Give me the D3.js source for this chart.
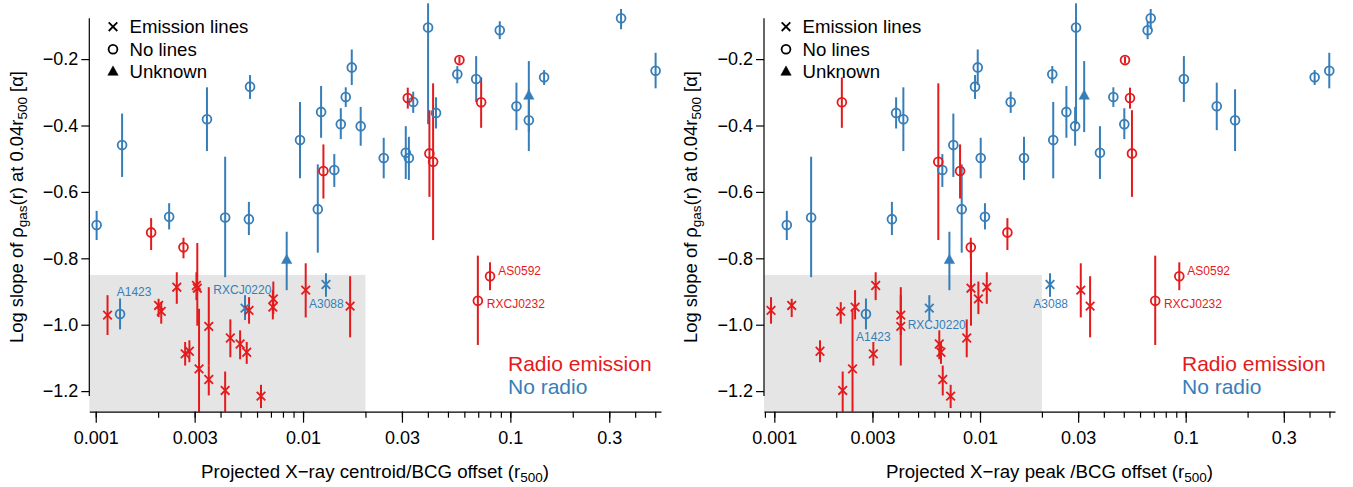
<!DOCTYPE html>
<html>
<head>
<meta charset="utf-8">
<script src="https://cdn.jsdelivr.net/npm/d3@7"></script>
<style>
    body { margin: 0; background: #fff; }
    text { font-family: "Liberation Sans", Arial, sans-serif; }
</style>
</head>
<body>
<div id="chart"></div>
<script>
// one entry per cluster, same order in every array
const names = [
    '', '', '', '', '', '', '', '', '', '', '', '', '', '', '', '', '', '', '', '', '', '', '', '', '', '', '', '', '',
    'A1423', '', '', 'A3088', 'RXCJ0220',
    '', '', '', '', '', '', '', '', 'AS0592', 'RXCJ0232',
    '', '', '', '', '', '', '', '', '', '', '', '', '', '', '', '', '', '', '', '', ''
];

// log slope of the gas density at 0.04 r500, with lower / upper bounds
const slope = [
    -0.700, -0.459, -0.675, -0.381, -0.677, -0.283, -0.682, -0.444, -0.652, -0.359,
    -0.534, -0.396, -0.314, -0.225, -0.402, -0.498, -0.482, -0.498, -0.329, -0.105,
    -0.362, -0.246, -0.260, -0.113, -0.342, -0.384, -0.255, -0.077, -0.235,
    -0.968, -0.805, -0.310, -0.879, -0.950,
    -0.722, -0.767, -0.537, -0.317, -0.484, -0.509, -0.203, -0.330, -0.854, -0.928,
    -0.971, -0.942, -0.960, -0.887, -1.088, -1.080, -0.882, -0.890, -1.133, -1.005,
    -1.165, -1.198, -1.040, -1.058, -1.083, -0.957, -0.922, -0.947, -1.215, -0.896, -0.944
];
const slopeHi = [
    -0.657, -0.364, -0.634, -0.285, -0.494, -0.248, -0.630, -0.329, -0.517, -0.281,
    -0.486, -0.348, -0.285, -0.171, -0.344, -0.437, -0.402, -0.434, -0.298, -0.032,
    -0.315, -0.221, -0.191, -0.086, -0.271, -0.291, -0.233, -0.049, -0.181,
    -0.921, -0.720, -0.206, -0.845, -0.911,
    -0.679, -0.738, -0.457, -0.286, -0.354, -0.273, -0.193, -0.255, -0.812, -0.792,
    -0.911, -0.922, -0.932, -0.842, -1.052, -1.047, -0.842, -0.754, -0.952, -0.887,
    -1.123, -1.141, -0.984, -1.017, -1.052, -0.917, -0.870, -0.896, -1.181, -0.815, -0.854
];
const slopeLo = [
    -0.745, -0.555, -0.713, -0.477, -0.857, -0.320, -0.730, -0.559, -0.783, -0.437,
    -0.585, -0.441, -0.344, -0.278, -0.461, -0.559, -0.561, -0.564, -0.362, -0.396,
    -0.409, -0.273, -0.329, -0.140, -0.414, -0.477, -0.278, -0.110, -0.288,
    -1.014, -0.896, -0.420, -0.916, -0.986,
    -0.775, -0.800, -0.620, -0.349, -0.615, -0.745, -0.213, -0.407, -0.896, -1.061,
    -1.031, -0.977, -0.997, -0.937, -1.123, -1.113, -0.926, -1.003, -1.300, -1.123,
    -1.213, -1.300, -1.098, -1.104, -1.118, -0.997, -0.968, -0.984, -1.251, -0.978, -1.038
];

// projected X-ray centroid / BCG offset and X-ray peak / BCG offset (r500)
const offCentroid = [
    0.00101, 0.00134, 0.00226, 0.00344, 0.00421, 0.00555, 0.00548, 0.00967, 0.01178, 0.01222,
    0.01415, 0.01521, 0.01607, 0.01718, 0.01897, 0.0245, 0.0313, 0.0324, 0.0340, 0.0401,
    0.0438, 0.0555, 0.0684, 0.0889, 0.107, 0.1228, 0.1455, 0.342, 0.502,
    0.00131, 0.00834, 0.1228, 0.0129, 0.00525,
    0.00185, 0.00265, 0.01254, 0.0320, 0.0407, 0.0424, 0.0568, 0.0723, 0.0798, 0.0697,
    0.00114, 0.00201, 0.00207, 0.00246, 0.00270, 0.00283, 0.00306, 0.00309, 0.00315, 0.00351,
    0.00351, 0.00421, 0.00446, 0.00497, 0.00535, 0.00549, 0.00719, 0.00715, 0.00627, 0.0103, 0.01687
];
const offPeak = [
    0.00115, 0.00742, 0.01057, 0.00424, 0.00151, 0.00946, 0.00373, 0.0227, 0.00815, 0.0263,
    0.00656, 0.0503, 0.0445, 0.00975, 0.0290, 0.01008, 0.0383, 0.01637, 0.0141, 0.0293,
    0.00391, 0.02246, 0.0980, 0.0653, 0.1416, 0.1738, 0.4236, 0.0676, 0.499,
    0.00279, 0.00710, 0.0321, 0.0219, 0.00567,
    0.01359, 0.00902, 0.00800, 0.0536, 0.0548, 0.00627, 0.0507, 0.00213, 0.0931, 0.0711,
    0.00412, 0.001215, 0.002104, 0.01079, 0.00303, 0.001668, 0.00311, 0.00904, 0.00240, 0.00412,
    0.00659, 0.00215, 0.00862, 0.00634, 0.00646, 0.000964, 0.00982, 0.00247, 0.00720, 0.0309, 0.0343
];

// N = no lines, E = emission lines, U = unknown
const lines = [
    'N', 'N', 'N', 'N', 'N', 'N', 'N', 'N', 'N', 'N', 'N', 'N', 'N', 'N', 'N',
    'N', 'N', 'N', 'N', 'N', 'N', 'N', 'N', 'N', 'N', 'N', 'N', 'N', 'N',
    'N', 'U', 'U', 'E', 'E',
    'N', 'N', 'N', 'N', 'N', 'N', 'N', 'N', 'N', 'N',
    'E', 'E', 'E', 'E', 'E', 'E', 'E', 'E', 'E', 'E', 'E',
    'E', 'E', 'E', 'E', 'E', 'E', 'E', 'E', 'E', 'E'
];
const radio = [
    0, 0, 0, 0, 0, 0, 0, 0, 0, 0, 0, 0, 0, 0, 0, 0, 0, 0, 0, 0, 0, 0, 0, 0, 0, 0, 0, 0, 0,
    0, 0, 0, 0, 0,
    1, 1, 1, 1, 1, 1, 1, 1, 1, 1,
    1, 1, 1, 1, 1, 1, 1, 1, 1, 1, 1, 1, 1, 1, 1, 1, 1, 1, 1, 1, 1
];

const xMajor = [0.001, 0.003, 0.01, 0.03, 0.1, 0.3];
const yTicks = [-0.2, -0.4, -0.6, -0.8, -1.0, -1.2];
const legendLines = [['E', 'Emission lines'], ['N', 'No lines'], ['U', 'Unknown']];
const legendRadio = [[1, 'Radio emission'], [0, 'No radio']];
const shadeOffset = 0.02;
const shadeSlope = -0.85;

const red = '#e41a1c';
const blue = '#377eb8';
const width = 1353;
const height = 487;
const plotBottom = 411.7;

const y = d3.scaleLinear().domain([-1.262, -0.022]).range([plotBottom, 0]);

const panels = [
    {
        x0: 89.3, x1: 661, domain: [0.000931, 0.533], values: offCentroid,
        title: 'Projected X\u2212ray centroid/BCG offset (r', titleX: 375,
        yTitleX: 23, legendX: 113, radioX: 508,
        labels: {
            A1423: [-3.3, -18], RXCJ0220: [-31.7, -14.4], A3088: [-17, 23.8],
            AS0592: [8.3, -1.7], RXCJ0232: [9, 7.6]
        }
    },
    {
        x0: 764, x1: 1335, domain: [0.000891, 0.532], values: offPeak,
        title: 'Projected X\u2212ray peak /BCG offset (r', titleX: 1049.5,
        yTitleX: 697, legendX: 786, radioX: 1182,
        labels: {
            A1423: [-10, 27], RXCJ0220: [-21.6, 20.9], A3088: [-16.7, 23.3],
            AS0592: [8, -1.7], RXCJ0232: [8.7, 7.6]
        }
    }
];

const svg = d3.select('#chart')
    .append('svg')
    .attr('width', width)
    .attr('height', height);

const symbol = {
    N: 'M4.4,0A4.4,4.4 0 1,1 -4.4,0A4.4,4.4 0 1,1 4.4,0Z',
    E: 'M-4.3,-4.3L4.3,4.3M-4.3,4.3L4.3,-4.3',
    U: 'M0,-5.8L5.2,3.6L-5.2,3.6Z'
};

const clamp = v => Math.max(y.domain()[0], Math.min(y.domain()[1], v));

function drawMark(g, type, color) {
    g.append('path')
        .attr('d', symbol[type])
        .attr('fill', type === 'U' ? color : 'none')
        .attr('stroke', color)
        .attr('stroke-width', type === 'U' ? 0.5 : 1.8);
}

function drawPanel(p) {
    const x = d3.scaleLog().domain(p.domain).range([p.x0, p.x1]);
    const g = svg.append('g');

    g.append('rect')
        .attr('x', p.x0)
        .attr('y', y(shadeSlope))
        .attr('width', x(shadeOffset) - p.x0)
        .attr('height', plotBottom - y(shadeSlope))
        .attr('fill', '#e5e5e5');

    const data = slope.map((s, i) => ({
        name: names[i], s: s, lo: slopeLo[i], hi: slopeHi[i],
        off: p.values[i], type: lines[i], color: radio[i] ? red : blue
    }));

    g.selectAll('.err')
        .data(data)
        .enter()
        .append('line')
        .attr('class', 'err')
        .attr('x1', d => x(d.off))
        .attr('x2', d => x(d.off))
        .attr('y1', d => y(clamp(d.hi)))
        .attr('y2', d => y(clamp(d.lo)))
        .attr('stroke', d => d.color)
        .attr('stroke-width', 2);

    g.selectAll('.pt')
        .data(data)
        .enter()
        .append('g')
        .attr('class', 'pt')
        .attr('transform', d => `translate(${x(d.off)},${y(d.s)})`)
        .each(function (d) {
            drawMark(d3.select(this), d.type, d.color);
        });

    g.selectAll('.lab')
        .data(data.filter(d => d.name))
        .enter()
        .append('text')
        .attr('class', 'lab')
        .attr('x', d => x(d.off) + p.labels[d.name][0])
        .attr('y', d => y(d.s) + p.labels[d.name][1])
        .attr('fill', d => d.color)
        .attr('font-size', 12)
        .text(d => d.name);

    // x axis: minor ticks on every multiple, labelled major ticks
    g.append('g')
        .attr('transform', `translate(0,${plotBottom})`)
        .call(d3.axisBottom(x).tickValues(x.ticks()).tickSize(6).tickSizeOuter(0).tickFormat(''))
        .call(a => a.selectAll('path, line').attr('stroke', '#000').attr('stroke-width', 1.2));

    g.append('g')
        .attr('transform', `translate(0,${plotBottom})`)
        .call(d3.axisBottom(x).tickValues(xMajor).tickSize(11).tickSizeOuter(0).tickPadding(9).tickFormat(d3.format('')))
        .call(a => a.select('.domain').remove())
        .call(a => a.selectAll('line').attr('stroke', '#000').attr('stroke-width', 1.2))
        .call(a => a.selectAll('text').attr('font-size', 18).attr('fill', '#000').attr('font-family', null));

    // y axis line spans the data range
    const ext = d3.extent(slope);
    g.append('g')
        .attr('transform', `translate(${p.x0},0)`)
        .call(d3.axisLeft(y).tickValues(yTicks).tickSize(8).tickPadding(3).tickFormat(d3.format('.1f')))
        .call(a => a.select('.domain').remove())
        .call(a => a.selectAll('line').attr('stroke', '#000').attr('stroke-width', 1.2))
        .call(a => a.selectAll('text').attr('font-size', 18).attr('fill', '#000').attr('font-family', null))
        .append('line')
        .attr('y1', y(ext[1]))
        .attr('y2', y(ext[0]))
        .attr('stroke', '#000')
        .attr('stroke-width', 1.2);

    const xt = g.append('text')
        .attr('x', p.titleX)
        .attr('y', 478)
        .attr('text-anchor', 'middle')
        .attr('font-size', 18.7)
        .text(p.title);
    xt.append('tspan').attr('font-size', 13.5).attr('dy', 4).text('500');
    xt.append('tspan').attr('dy', -4).text(')');

    const yt = g.append('text')
        .attr('transform', `translate(${p.yTitleX},207) rotate(-90)`)
        .attr('text-anchor', 'middle')
        .attr('font-size', 18.4)
        .text('Log slope of \u03c1');
    yt.append('tspan').attr('font-size', 13.5).attr('dy', 4).text('gas');
    yt.append('tspan').attr('dy', -4).text('(r) at 0.04r');
    yt.append('tspan').attr('font-size', 13.5).attr('dy', 4).text('500');
    yt.append('tspan').attr('dy', -4).text(' [\u03b1]');

    // legend for line type
    legendLines.forEach((l, i) => {
        const cy = 26.7 + i * 22.5;
        drawMark(g.append('g').attr('transform', `translate(${p.legendX},${cy})`), l[0], '#000');
        g.append('text')
            .attr('x', p.legendX + 16.5)
            .attr('y', cy + 6.6)
            .attr('font-size', 18.6)
            .text(l[1]);
    });

    // legend for radio
    legendRadio.forEach((l, i) => {
        g.append('text')
            .attr('x', p.radioX)
            .attr('y', 370.5 + i * 23.7)
            .attr('font-size', 21)
            .attr('fill', l[0] ? red : blue)
            .text(l[1]);
    });
}

panels.forEach(drawPanel);
</script>
</body>
</html>
